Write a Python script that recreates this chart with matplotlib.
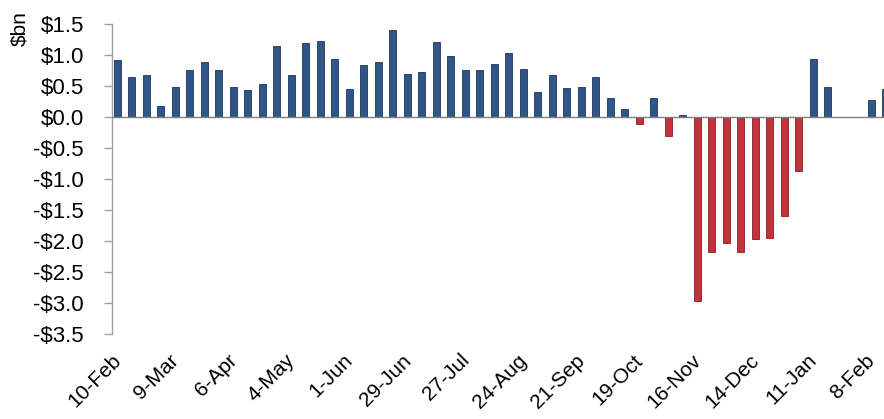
import matplotlib
matplotlib.use("Agg")
import matplotlib.pyplot as plt
import matplotlib.transforms as mtransforms
import numpy as np

values = [0.92, 0.64, 0.68, 0.18, 0.49, 0.76, 0.88, 0.76, 0.48, 0.44,
          0.53, 1.14, 0.68, 1.20, 1.23, 0.94, 0.45, 0.84, 0.88, 1.41,
          0.70, 0.72, 1.21, 0.99, 0.76, 0.76, 0.85, 1.04, 0.78, 0.41,
          0.68, 0.46, 0.49, 0.64, 0.30, 0.13, -0.11, 0.30, -0.31, 0.03,
          -2.97, -2.18, -2.04, -2.17, -1.96, -1.95, -1.59, -0.87, 0.94, 0.48,
          0.0, 0.0, 0.28, 0.45]
tick_labels = ["10-Feb", "9-Mar", "6-Apr", "4-May", "1-Jun", "29-Jun", "27-Jul",
               "24-Aug", "21-Sep", "19-Oct", "16-Nov", "14-Dec", "11-Jan", "8-Feb"]
y_ticks = [1.5, 1.0, 0.5, 0.0, -0.5, -1.0, -1.5, -2.0, -2.5, -3.0, -3.5]
y_label = "$bn"

plt.rcParams['font.family'] = ['Liberation Sans', 'DejaVu Sans']

W, H = 884, 419
fig = plt.figure(figsize=(W / 100, H / 100), dpi=100)
left_px, right_px, top_px, bot_px = 111.7, 900, 24, 334
ax = fig.add_axes([left_px / W, 1 - bot_px / H, (right_px - left_px) / W, (bot_px - top_px) / H])

x = np.arange(1, len(values) + 1)
blue, red = '#2f5687', '#c4323c'
blue_e, red_e = '#1c3557', '#8a1c24'
cols = [blue if v >= 0 else red for v in values]
ecols = [blue_e if v >= 0 else red_e for v in values]
ax.bar(x, values, width=0.5, color=cols, edgecolor=ecols, linewidth=0.6, zorder=2)

spacing = 14.5
ax.set_xlim(1 - (117.3 - left_px) / spacing, 1 + (right_px - 117.3) / spacing)
ax.set_ylim(-3.5, 1.5)

ax.axhline(0, color='#7f7f7f', linewidth=1.0, zorder=3)

for s in ['top', 'right', 'bottom']:
    ax.spines[s].set_visible(False)
ax.spines['left'].set_color('#a0a0a0')
ax.spines['left'].set_linewidth(1.0)

ax.set_yticks(y_ticks)
ax.set_yticklabels([("-$%.1f" % abs(v)) if v < 0 else ("$%.1f" % v) for v in y_ticks], fontsize=16)
ax.tick_params(axis='y', length=6, width=1, color='#a0a0a0', pad=14)

ax.set_xticks(x[::4])
ax.set_xticklabels(tick_labels, fontsize=15, rotation=45, ha='right', rotation_mode='anchor', va='top')
ax.tick_params(axis='x', length=0, pad=12)
off = mtransforms.ScaledTranslation(-6 / 100, 0, fig.dpi_scale_trans)
for lab in ax.get_xticklabels():
    lab.set_transform(lab.get_transform() + off)

fig.text(20 / W, 1 - 29 / H, y_label, rotation=90, fontsize=15, ha='center', va='center')

fig.savefig('out.png', dpi=100)
